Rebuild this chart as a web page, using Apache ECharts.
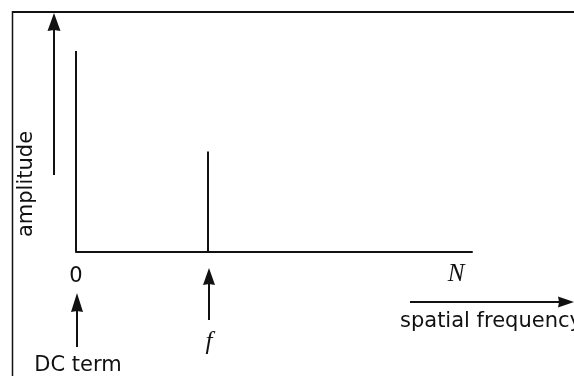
<!DOCTYPE html>
<html>
<head>
<meta charset="utf-8">
<script src="https://cdn.jsdelivr.net/npm/echarts@6/dist/echarts.min.js"></script>
<style>
html,body{margin:0;padding:0;background:#fff;}
#chart{width:574px;height:376px;}
</style>
</head>
<body>
<div id="chart"></div>
<script>
// ---- data ----
const componentNames = ['DC term', 'f'];
const frequencies = [0, 1];      // spatial frequency (f = 1, N = 3)
const amplitudes = [1.0, 0.5];   // relative amplitude
const nyquist = 3;               // N
const tickLabels = ['0', 'N'];
const axisTitles = ['amplitude', 'spatial frequency'];

const INK = '#111111';
const SANS = '"DejaVu Sans", sans-serif';
const SERIF_IT = 'italic 25px "Liberation Serif", serif';

const chart = echarts.init(document.getElementById('chart'), null, {renderer: 'canvas'});

const spikeData = frequencies.map((f, i) => [f, amplitudes[i]]);

chart.setOption({
  animation: false,
  backgroundColor: '#ffffff',
  grid: {left: 76, right: 102, top: 51, bottom: 124, containLabel: false},
  xAxis: {
    type: 'value', min: 0, max: nyquist,
    axisLine: {show: true, lineStyle: {color: INK, width: 2}},
    axisTick: {show: false}, axisLabel: {show: false}, splitLine: {show: false}
  },
  yAxis: {
    type: 'value', min: 0, max: 1,
    axisLine: {show: false}, axisTick: {show: false}, axisLabel: {show: false}, splitLine: {show: false}
  },
  series: [{
    type: 'bar',
    data: spikeData,
    barWidth: 2,
    itemStyle: {color: INK},
    silent: true
  }]
});

function px(x, y) { return chart.convertToPixel({gridIndex: 0}, [x, y]); }
const dc = px(frequencies[0], 0);
const fp = px(frequencies[1], 0);
const np = px(nyquist, 0);

function line(x1, y1, x2, y2, w) {
  return {type: 'line', shape: {x1, y1, x2, y2}, style: {stroke: INK, lineWidth: w || 2}, silent: true};
}
function headUp(x, tipY, len, half) {
  return {type: 'polygon', shape: {points: [[x, tipY], [x - half, tipY + len], [x, tipY + len - 1], [x + half, tipY + len]]},
    style: {fill: INK}, silent: true};
}
function headRight(tipX, y, len, half) {
  return {type: 'polygon', shape: {points: [[tipX, y], [tipX - len, y - half], [tipX - len + 1, y], [tipX - len, y + half]]},
    style: {fill: INK}, silent: true};
}
function text(str, x, y, font, align, rotation) {
  return {type: 'text', x, y, rotation: rotation || 0, silent: true,
    style: {text: str, font, fill: INK, textAlign: align || 'center', textVerticalAlign: 'middle'}};
}

chart.setOption({
  graphic: [
    // frame
    line(12, 12, 574, 12, 2),
    line(12.5, 11, 12.5, 376, 1.5),
    // amplitude axis arrow
    line(54, 175, 54, 26, 2),
    headUp(54, 13, 18, 6.5),
    text(axisTitles[0], 27, 184, '21px ' + SANS, 'center', Math.PI / 2),
    // zero label and DC arrow
    text(tickLabels[0], dc[0], 277, '21px ' + SANS, 'center'),
    line(dc[0] + 1, 347, dc[0] + 1, 308, 2),
    headUp(dc[0] + 1, 293, 19, 6),
    text(componentNames[0], dc[0] + 2, 366, '21px ' + SANS, 'center'),
    // f arrow
    line(fp[0] + 1, 320, fp[0] + 1, 282, 2),
    headUp(fp[0] + 1, 268, 17, 6),
    text(componentNames[1], fp[0] + 1, 342, SERIF_IT, 'center'),
    // N label
    text(tickLabels[1], np[0] - 16, 274, SERIF_IT, 'center'),
    // spatial frequency arrow
    line(410, 302, 562, 302, 2),
    headRight(574, 302, 16, 5.5),
    text(axisTitles[1], 400, 322, '21px ' + SANS, 'left')
  ]
});
</script>
</body>
</html>
